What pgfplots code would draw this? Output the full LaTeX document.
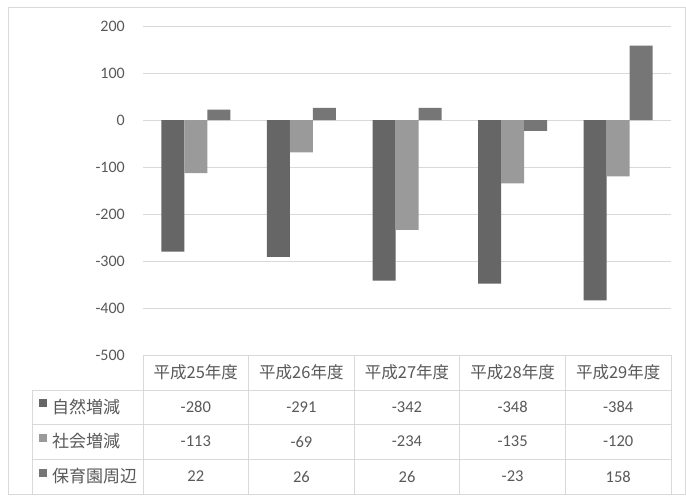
\documentclass[border=0pt]{standalone}
\usepackage{pgfplots}
\pgfplotsset{compat=1.18}
\usepackage{fontspec}
\setmainfont{Carlito}
\newfontfamily\jp{Noto Sans CJK JP}
\definecolor{txt}{HTML}{595959}
\definecolor{gridc}{HTML}{D9D9D9}
\definecolor{sa}{HTML}{666666}
\definecolor{sb}{HTML}{9A9A9A}
\definecolor{sc}{HTML}{767676}
\begin{document}
\begin{tikzpicture}[x=1pt,y=1pt]
\useasboundingbox (0,0) rectangle (686,496);
\fill[white] (0,0) rectangle (686,496);
\draw[gridc, line width=1pt] (8.5,2) rectangle (685.5,488);
\begin{axis}[
  at={(143pt,141pt)}, anchor=south west,
  scale only axis, width=528pt, height=329pt,
  xmin=-0.5, xmax=4.5, ymin=-500, ymax=200,
  ytick={-500,-400,-300,-200,-100,0,100,200},
  yticklabels={-500,-400,-300,-200,-100,0,100,200},
  xtick=\empty,
  ymajorgrids, grid style={draw=gridc, line width=0.9pt},
  axis line style={draw=none},
  major tick length=0pt,
  yticklabel style={font=\fontsize{16}{18}\selectfont, text=txt, inner sep=0pt, anchor=east, xshift=-18pt},
  ybar=0pt, bar width=23pt,
  clip=false,
]
\addplot[fill=sa, draw=none] coordinates {(0,-280) (1,-291) (2,-342) (3,-348) (4,-384)};
\addplot[fill=sb, draw=none] coordinates {(0,-113) (1,-69) (2,-234) (3,-135) (4,-120)};
\addplot[fill=sc, draw=none] coordinates {(0,22) (1,26) (2,26) (3,-23) (4,158)};
\end{axis}
% table grid
\begin{scope}[gridc, line width=0.9pt]
\draw (143,141) -- (671,141);
\draw (32,106) -- (671,106);
\draw (32,72) -- (671,72);
\draw (32,37) -- (671,37);
\draw (32,2) -- (32,106);
\foreach \i in {0,...,5} { \draw ({143+\i*105.6},2) -- ({143+\i*105.6},141); }
\end{scope}
% header
\foreach \lab [count=\i from 0] in {平成25年度,平成26年度,平成27年度,平成28年度,平成29年度} {
  \node[text=txt, font=\jp\fontsize{16.5}{18}\selectfont, inner sep=0pt] at ({143+52.8+\i*105.6},123.5) {\lab};
}
% row labels
\fill[sa] (39,89) rectangle (47,97);
\fill[sb] (39,54.5) rectangle (47,62.5);
\fill[sc] (39,19.5) rectangle (47,27.5);
\node[text=txt, font=\jp\fontsize{17}{18}\selectfont, inner sep=0pt, anchor=west] at (52,89) {自然増減};
\node[text=txt, font=\jp\fontsize{17}{18}\selectfont, inner sep=0pt, anchor=west] at (52,54.5) {社会増減};
\node[text=txt, font=\jp\fontsize{17}{18}\selectfont, inner sep=0pt, anchor=west] at (52,19.5) {保育園周辺};
% values
\foreach \v [count=\i from 0] in {-280,-291,-342,-348,-384} {
  \node[text=txt, font=\fontsize{16.5}{18}\selectfont, inner sep=0pt] at ({143+52.8+\i*105.6},89) {\v};
}
\foreach \v [count=\i from 0] in {-113,-69,-234,-135,-120} {
  \node[text=txt, font=\fontsize{16.5}{18}\selectfont, inner sep=0pt] at ({143+52.8+\i*105.6},54.5) {\v};
}
\foreach \v [count=\i from 0] in {22,26,26,-23,158} {
  \node[text=txt, font=\fontsize{16.5}{18}\selectfont, inner sep=0pt] at ({143+52.8+\i*105.6},19.5) {\v};
}
\end{tikzpicture}
\end{document}
